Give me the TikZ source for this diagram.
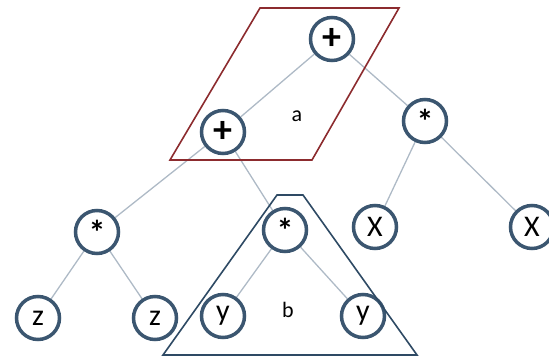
\documentclass[tikz,border=0pt]{standalone}
\usepackage{fontspec}
\setmainfont{Carlito}
\usepackage{xcolor}
\usepackage{tikz}
\usetikzlibrary{backgrounds}
\definecolor{ringblue}{HTML}{3B5670}
\definecolor{edgegray}{HTML}{AEBAC6}
\definecolor{boxred}{HTML}{8C2B2E}
\definecolor{boxblue}{HTML}{2E4A64}
\newcommand{\opstar}{{\fontsize{34}{34}\selectfont\bfseries\raisebox{-0.5ex}{*}}}
\newcommand{\opplus}{{\fontsize{38}{38}\selectfont\bfseries +}}

\begin{document}
\begin{tikzpicture}[
  x=1pt, y=-1pt,
  term/.style={circle, draw=ringblue, line width=3.5pt, fill=white, minimum size=43pt, inner sep=0pt, font=\fontsize{30}{32}\selectfont},
  edge/.style={draw=edgegray, line width=1.3pt},
  region/.style={line width=1.6pt, line join=miter},
  tag/.style={font=\fontsize{22}{24}\selectfont}
]
  \useasboundingbox (0,0) rectangle (549,358);

  \node[term] (root) at (332,39) {\opplus};
  \node[term] (plus) at (223,132) {\opplus};
  \node[term] (starR) at (425,121) {\opstar};
  \node[term] (starL) at (97,232) {\opstar};
  \node[term] (starM) at (285,230) {\opstar};
  \node[term] (xL) at (375,227) {X};
  \node[term] (xR) at (532,227) {X};
  \node[term] (zL) at (38,318) {z};
  \node[term] (zR) at (155,318) {z};
  \node[term] (yL) at (223,316) {y};
  \node[term] (yR) at (363,316) {y};

  % edges behind the circles
  \begin{scope}[on background layer]
  \draw[edge] (root) -- (plus);
  \draw[edge] (root) -- (starR);
  \draw[edge] (plus) -- (starL);
  \draw[edge] (plus) -- (starM);
  \draw[edge] (starL) -- (zL);
  \draw[edge] (starL) -- (zR);
  \draw[edge] (starM) -- (yL);
  \draw[edge] (starM) -- (yR);
  \draw[edge] (starR) -- (xL);
  \draw[edge] (starR) -- (xR);
  \end{scope}

  % subtree a
  \draw[region, draw=boxred] (260,8) -- (399,8) -- (312,160) -- (170,160) -- cycle;
  \node[tag] (la) at (297,116) {a};

  % subtree b
  \draw[region, draw=boxblue] (277,195) -- (303,195) -- (417,355) -- (163,355) -- cycle;
  \node[tag] (lb) at (288,310) {b};
\end{tikzpicture}
\end{document}
